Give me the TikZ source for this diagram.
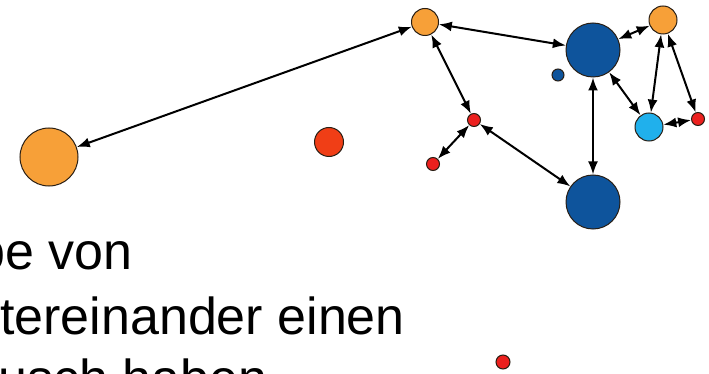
\documentclass[tikz,border=0pt]{standalone}
\usepackage{fontspec}
\setmainfont{Liberation Sans}
\usetikzlibrary{arrows.meta}
\definecolor{orangeN}{RGB}{247,160,56}
\definecolor{redmid}{RGB}{240,62,22}
\definecolor{redsmall}{RGB}{236,32,30}
\definecolor{darkblue}{RGB}{14,84,156}
\definecolor{lightblue}{RGB}{32,176,236}
\definecolor{rimdark}{RGB}{40,30,20}
\tikzset{
  vtx/.style={circle, draw=rimdark, line width=1pt, inner sep=0pt, minimum size=#1},
  link/.style={{Latex[length=13pt,width=10pt]}-{Latex[length=13pt,width=10pt]}, line width=2pt, black},
  txt/.style={anchor=base west, inner sep=0pt, font=\fontsize{52}{62}\selectfont}
}
\begin{document}
\begin{tikzpicture}[x=1pt,y=-1pt]
\clip (0,0) rectangle (709,374);
\useasboundingbox (0,0) rectangle (709,374);
\fill[white] (0,0) rectangle (709,374);
% text
\node[txt] (t1) at (-24,269) {pe von};
\node[txt] (t2) at (0,334) {tereinander einen};
\node[txt] (t3) at (-2,396) {usch haben};
% nodes
\node[vtx=58pt, fill=orangeN] (oL) at (49,157) {};
\node[vtx=27pt, fill=orangeN] (oT) at (425,22) {};
\node[vtx=28pt, fill=orangeN] (oR) at (663,20) {};
\node[vtx=29pt, fill=redmid] (rM) at (329,142) {};
\node[vtx=13pt, fill=redsmall] (r1) at (474,120) {};
\node[vtx=13pt, fill=redsmall] (r2) at (433,164) {};
\node[vtx=13pt, fill=redsmall] (r3) at (698,119) {};
\node[vtx=14pt, fill=redsmall] (r4) at (503,362) {};
\node[vtx=54pt, fill=darkblue] (bT) at (593,50) {};
\node[vtx=54pt, fill=darkblue] (bB) at (593,202) {};
\node[vtx=12pt, fill=darkblue] (bS) at (558,75) {};
\node[vtx=28pt, fill=lightblue] (lb) at (649,127) {};
% connectors
\draw[link] (oL) -- (oT);
\draw[link] (oT) -- (bT);
\draw[link] (oT) -- (r1);
\draw[link] (r1) -- (r2);
\draw[link] (r1) -- (bB);
\draw[link] (bT) -- (bB);
\draw[link] (bT) -- (oR);
\draw[link] (bT) -- (lb);
\draw[link] (oR) -- (lb);
\draw[link] (oR) -- (r3);
\draw[link] (lb) -- (r3);
\end{tikzpicture}
\end{document}
